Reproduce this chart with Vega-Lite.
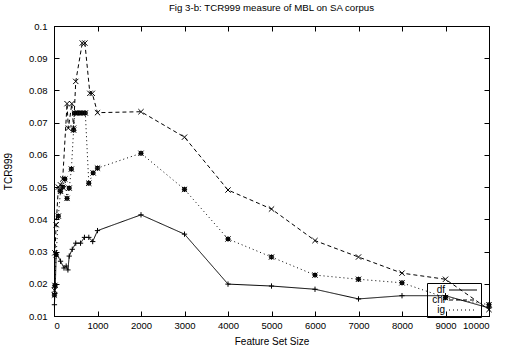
{
  "$schema": "https://vega.github.io/schema/vega-lite/v6.json",
  "width": 435,
  "height": 290,
  "autosize": {"type": "none"},
  "padding": {"left": 54, "top": 26, "right": 18, "bottom": 36},
  "title": {"text": "Fig 3-b: TCR999 measure of MBL on SA corpus", "fontSize": 9.7, "fontWeight": "normal", "font": "Liberation Sans", "color": "#000", "anchor": "middle", "dx": 0, "offset": 8},
  "config": {
    "view": {"stroke": "#000", "strokeWidth": 1},
    "axis": {"labelFont": "Liberation Sans", "titleFont": "Liberation Sans", "labelFontSize": 9.5, "titleFontSize": 10, "titleFontWeight": "normal", "labelColor": "#000", "titleColor": "#000", "domainColor": "#000", "tickColor": "#000", "grid": false},
    "legend": {"labelFont": "Liberation Sans", "labelFontSize": 10, "labelColor": "#000"}
  },
  "data": {"values": [
    {"series": "df", "size": 10, "tcr": 0.0135},
    {"series": "df", "size": 20, "tcr": 0.017},
    {"series": "df", "size": 30, "tcr": 0.019},
    {"series": "df", "size": 50, "tcr": 0.0297},
    {"series": "df", "size": 150, "tcr": 0.027},
    {"series": "df", "size": 230, "tcr": 0.0249},
    {"series": "df", "size": 280, "tcr": 0.0255},
    {"series": "df", "size": 320, "tcr": 0.0243},
    {"series": "df", "size": 350, "tcr": 0.0286},
    {"series": "df", "size": 420, "tcr": 0.0307},
    {"series": "df", "size": 500, "tcr": 0.0326},
    {"series": "df", "size": 610, "tcr": 0.0326},
    {"series": "df", "size": 700, "tcr": 0.0344},
    {"series": "df", "size": 800, "tcr": 0.0344},
    {"series": "df", "size": 890, "tcr": 0.0331},
    {"series": "df", "size": 1000, "tcr": 0.0365},
    {"series": "df", "size": 2000, "tcr": 0.0414},
    {"series": "df", "size": 3000, "tcr": 0.0354},
    {"series": "df", "size": 4000, "tcr": 0.0199},
    {"series": "df", "size": 5000, "tcr": 0.0193},
    {"series": "df", "size": 6000, "tcr": 0.0183},
    {"series": "df", "size": 7000, "tcr": 0.0153},
    {"series": "df", "size": 8000, "tcr": 0.0163},
    {"series": "df", "size": 9000, "tcr": 0.0163},
    {"series": "df", "size": 10000, "tcr": 0.0125},
    {"series": "chi", "size": 10, "tcr": 0.018},
    {"series": "chi", "size": 20, "tcr": 0.0296},
    {"series": "chi", "size": 50, "tcr": 0.0383},
    {"series": "chi", "size": 100, "tcr": 0.05},
    {"series": "chi", "size": 150, "tcr": 0.0507},
    {"series": "chi", "size": 200, "tcr": 0.0525},
    {"series": "chi", "size": 300, "tcr": 0.0759},
    {"series": "chi", "size": 330, "tcr": 0.0683},
    {"series": "chi", "size": 410, "tcr": 0.0759},
    {"series": "chi", "size": 450, "tcr": 0.0683},
    {"series": "chi", "size": 500, "tcr": 0.0828},
    {"series": "chi", "size": 650, "tcr": 0.0947},
    {"series": "chi", "size": 710, "tcr": 0.0947},
    {"series": "chi", "size": 825, "tcr": 0.0791},
    {"series": "chi", "size": 880, "tcr": 0.0791},
    {"series": "chi", "size": 1000, "tcr": 0.0731},
    {"series": "chi", "size": 2000, "tcr": 0.0734},
    {"series": "chi", "size": 3000, "tcr": 0.0655},
    {"series": "chi", "size": 4000, "tcr": 0.0491},
    {"series": "chi", "size": 5000, "tcr": 0.0432},
    {"series": "chi", "size": 6000, "tcr": 0.0334},
    {"series": "chi", "size": 7000, "tcr": 0.0283},
    {"series": "chi", "size": 8000, "tcr": 0.0233},
    {"series": "chi", "size": 9000, "tcr": 0.0214},
    {"series": "chi", "size": 10000, "tcr": 0.012},
    {"series": "ig", "size": 10, "tcr": 0.0165},
    {"series": "ig", "size": 20, "tcr": 0.0195},
    {"series": "ig", "size": 50, "tcr": 0.029},
    {"series": "ig", "size": 100, "tcr": 0.041},
    {"series": "ig", "size": 150, "tcr": 0.0487},
    {"series": "ig", "size": 200, "tcr": 0.05},
    {"series": "ig", "size": 250, "tcr": 0.0525},
    {"series": "ig", "size": 300, "tcr": 0.0465},
    {"series": "ig", "size": 350, "tcr": 0.0497},
    {"series": "ig", "size": 400, "tcr": 0.0556},
    {"series": "ig", "size": 450, "tcr": 0.0677},
    {"series": "ig", "size": 480, "tcr": 0.073},
    {"series": "ig", "size": 560, "tcr": 0.073},
    {"series": "ig", "size": 640, "tcr": 0.073},
    {"series": "ig", "size": 720, "tcr": 0.073},
    {"series": "ig", "size": 800, "tcr": 0.0512},
    {"series": "ig", "size": 900, "tcr": 0.0544},
    {"series": "ig", "size": 1000, "tcr": 0.0559},
    {"series": "ig", "size": 2000, "tcr": 0.0605},
    {"series": "ig", "size": 3000, "tcr": 0.0493},
    {"series": "ig", "size": 4000, "tcr": 0.0339},
    {"series": "ig", "size": 5000, "tcr": 0.0283},
    {"series": "ig", "size": 6000, "tcr": 0.0227},
    {"series": "ig", "size": 7000, "tcr": 0.0214},
    {"series": "ig", "size": 8000, "tcr": 0.0203},
    {"series": "ig", "size": 9000, "tcr": 0.0157},
    {"series": "ig", "size": 10000, "tcr": 0.0135}
  ]},
  "layer": [
    {
      "mark": {"type": "line", "color": "#000", "strokeWidth": 1},
      "encoding": {
        "x": {"field": "size", "type": "quantitative", "scale": {"domain": [0, 10000], "nice": false, "zero": false}, "axis": {"title": "Feature Set Size", "values": [0,1000,2000,3000,4000,5000,6000,7000,8000,9000,10000], "format": "d", "tickSize": -5, "labelPadding": 9, "titlePadding": 7}},
        "y": {"field": "tcr", "type": "quantitative", "scale": {"domain": [0.01, 0.1], "nice": false, "zero": false}, "axis": {"title": "TCR999", "values": [0.01,0.02,0.03,0.04,0.05,0.06,0.07,0.08,0.09,0.1], "format": ".2~f", "tickSize": -5, "labelPadding": 12, "titlePadding": 15}},
        "strokeDash": {"field": "series", "type": "nominal", "scale": {"domain": ["df", "chi", "ig"], "range": [[1, 0], [4, 3], [1, 3]]}, "legend": {"title": null, "orient": "none", "legendX": 373, "legendY": 257, "symbolType": "M-3.5,0L3.5,0", "symbolSize": 64, "symbolOffset": 29, "symbolStrokeColor": "#000", "symbolStrokeWidth": 1, "strokeColor": "#000", "padding": 2, "rowPadding": -2, "labelAlign": "right", "labelOffset": -23, "offset": 0}},
        "detail": {"field": "series"}
      }
    },
    {
      "transform": [{"filter": "datum.series === 'df'"}],
      "mark": {"type": "point", "filled": false, "stroke": "#000", "strokeWidth": 1, "size": 28, "opacity": 1, "shape": "M-1,0L1,0M0,-1L0,1"},
      "encoding": {
        "x": {"field": "size", "type": "quantitative", "axis": null},
        "y": {"field": "tcr", "type": "quantitative", "axis": null}
      }
    },
    {
      "transform": [{"filter": "datum.series === 'chi'"}],
      "mark": {"type": "point", "filled": false, "stroke": "#000", "strokeWidth": 1, "size": 28, "opacity": 1, "shape": "M-1,-1L1,1M-1,1L1,-1"},
      "encoding": {
        "x": {"field": "size", "type": "quantitative", "axis": null},
        "y": {"field": "tcr", "type": "quantitative", "axis": null}
      }
    },
    {
      "transform": [{"filter": "datum.series === 'ig'"}],
      "mark": {"type": "point", "filled": false, "stroke": "#000", "strokeWidth": 1, "size": 28, "opacity": 1, "shape": "M-1,-1L1,1M-1,1L1,-1M-1,0L1,0M0,-1L0,1M-0.6,-0.6L0.6,-0.6L0.6,0.6L-0.6,0.6Z"},
      "encoding": {
        "x": {"field": "size", "type": "quantitative", "axis": null},
        "y": {"field": "tcr", "type": "quantitative", "axis": null}
      }
    },
    {
      "mark": {"type": "point", "opacity": 0},
      "encoding": {
        "x": {"field": "size", "type": "quantitative", "axis": {"orient": "top", "labels": false, "title": null, "domain": false, "values": [0,1000,2000,3000,4000,5000,6000,7000,8000,9000,10000], "tickSize": -5}},
        "y": {"field": "tcr", "type": "quantitative", "axis": {"orient": "right", "labels": false, "title": null, "domain": false, "values": [0.01,0.02,0.03,0.04,0.05,0.06,0.07,0.08,0.09,0.1], "tickSize": -5}}
      }
    }
  ],
  "resolve": {"axis": {"x": "independent", "y": "independent"}}
}
